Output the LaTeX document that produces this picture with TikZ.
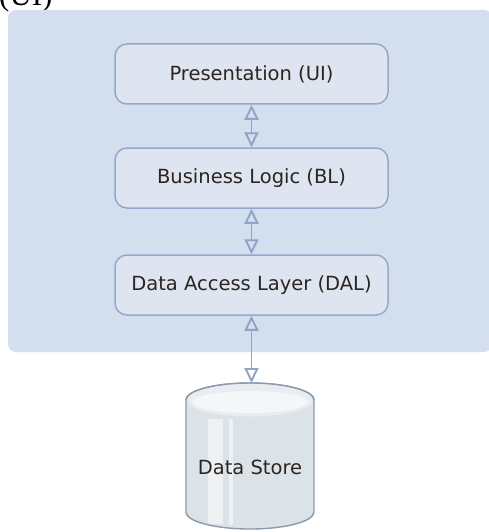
\documentclass[tikz,border=0pt]{standalone}
\usepackage{fontspec}
\setmainfont{DejaVu Sans}
\newfontfamily\captionserif{Liberation Serif}
\usetikzlibrary{arrows.meta}

\definecolor{panelfill}{RGB}{211,222,238}
\definecolor{layerfill}{RGB}{222,229,241}
\definecolor{layerline}{RGB}{150,168,202}
\definecolor{linkline}{RGB}{143,163,198}
\definecolor{inktext}{RGB}{43,37,32}
\definecolor{drumbody}{RGB}{220,227,232}
\definecolor{drumtop}{RGB}{232,237,241}
\definecolor{drumshine}{RGB}{244,247,249}
\definecolor{drumline}{RGB}{140,154,170}

\tikzset{
  layer/.style={draw=layerline, line width=1.5pt, fill=layerfill,
    rounded corners=12pt, minimum width=273pt, minimum height=60pt,
    inner sep=0pt, text=inktext, font=\fontsize{19.5}{22}\selectfont},
  link/.style={draw=linkline, line width=1.9pt,
    {Triangle[open, length=15pt, width=14pt]}-{Triangle[open, length=15pt, width=14pt]}},
  label/.style={text=inktext, font=\fontsize{19.5}{22}\selectfont, inner sep=0pt}
}

\begin{document}
\begin{tikzpicture}[x=1pt, y=-1pt]
  \useasboundingbox (0,0) rectangle (489,532);
  \fill[white] (0,0) rectangle (489,532);

  % heading text, cut by the page edge
  \node[anchor=base west, inner sep=0pt, text=black,
        font=\captionserif\fontsize{31}{31}\selectfont] (heading) at (-1,6) {(UI)};

  % container panel
  \fill[panelfill, rounded corners=8pt] (8,10) rectangle (492,352);

  % layers
  \node[layer] (ui)  at (251.5,74)  {Presentation (UI)};
  \node[layer] (bl)  at (251.5,178) {Business Logic (BL)};
  \node[layer] (dal) at (251.5,285) {Data Access Layer (DAL)};

  % data store drum (y axis points down: angles through 90 lie below the centre)
  \path[fill=drumbody, draw=drumline, line width=1.4pt]
    (186,400) -- (186,512) arc[start angle=180, end angle=0, x radius=64, y radius=17]
    -- (314,400) arc[start angle=0, end angle=-180, x radius=64, y radius=17] -- cycle;
  \fill[drumtop] (250,400) ellipse[x radius=63, y radius=16.5];
  \fill[drumshine] (250,402) ellipse[x radius=58, y radius=11];
  \fill[white, opacity=0.5] (208,419) rectangle (223,524);
  \fill[white, opacity=0.5] (229,419) rectangle (233,525);
  \draw[drumline, line width=1.4pt]
    (314,400) arc[start angle=0, end angle=-180, x radius=64, y radius=17];
  \coordinate (storetop) at (251.5,383);
  \node[label] (store) at (250,467) {Data Store};

  % links between layers
  \draw[link] (ui.south) -- (bl.north);
  \draw[link] (bl.south) -- (dal.north);
  \draw[link] (dal.south) -- (storetop);
\end{tikzpicture}
\end{document}
